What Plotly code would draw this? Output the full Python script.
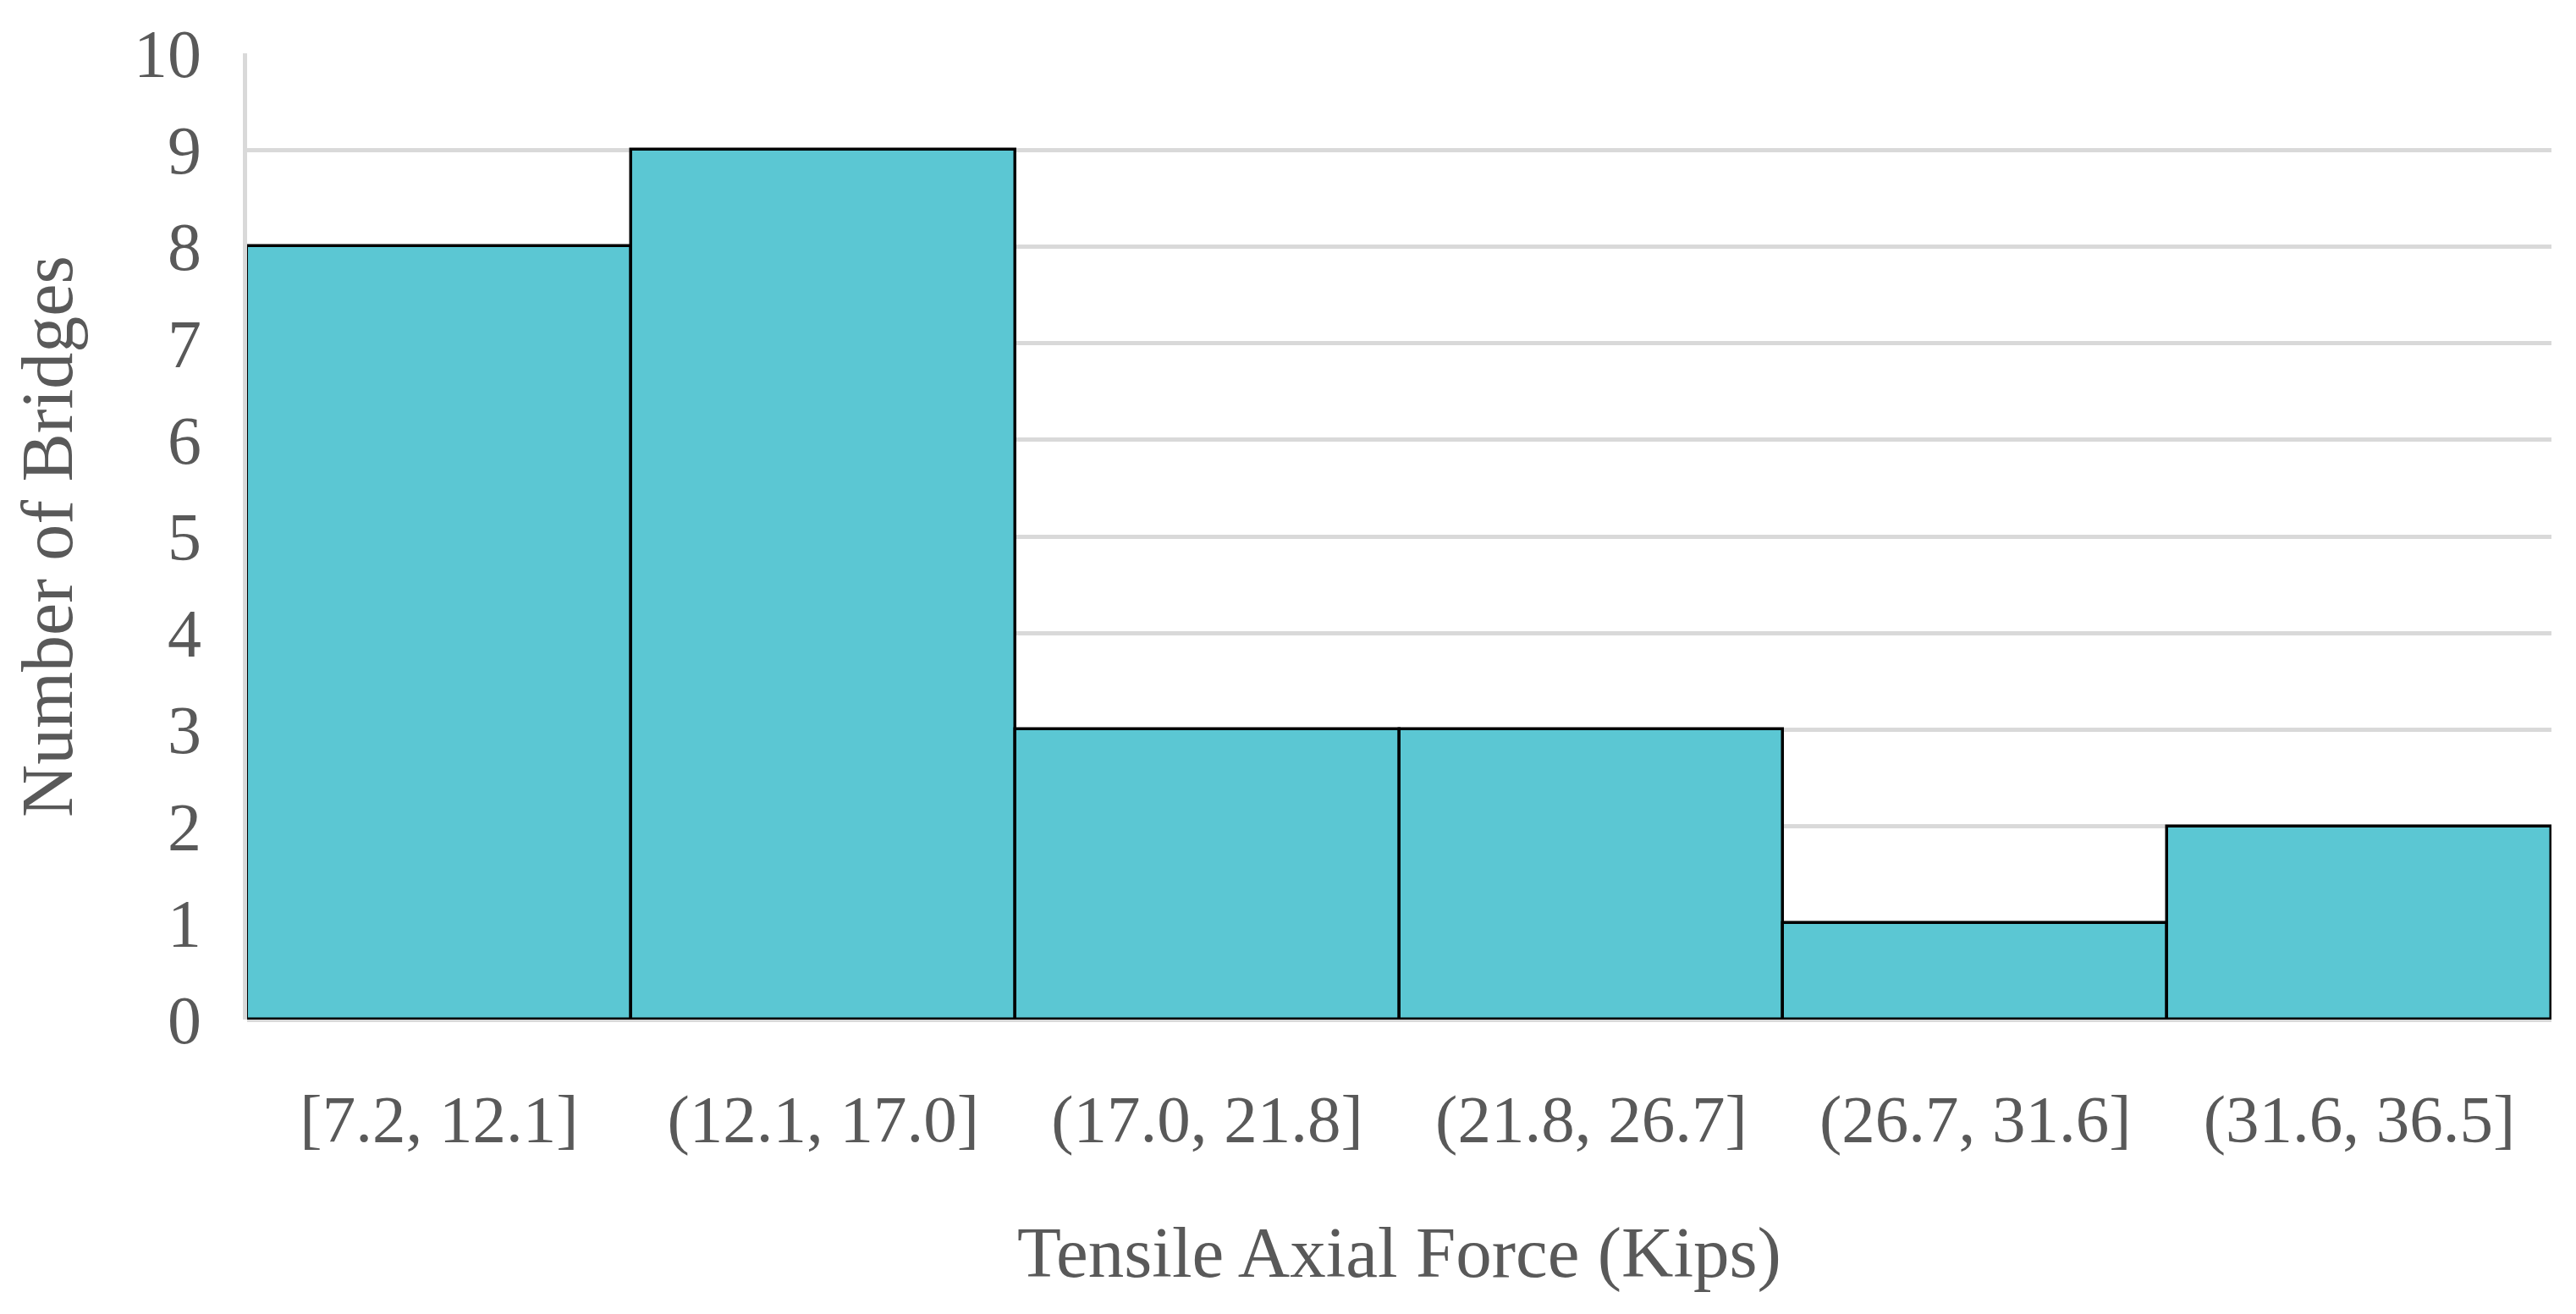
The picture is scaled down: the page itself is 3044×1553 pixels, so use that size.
import plotly.graph_objects as go

categories = ["[7.2, 12.1]", "(12.1, 17.0]", "(17.0, 21.8]", "(21.8, 26.7]", "(26.7, 31.6]", "(31.6, 36.5]"]
counts = [8, 9, 3, 3, 1, 2]
y_ticks = list(range(0, 11))

FONT = "Liberation Serif"
TXT = "#595959"
GRID = "#d9d9d9"

fig = go.Figure(go.Bar(
    x=categories, y=counts,
    marker=dict(color="#5BC7D3", line=dict(color="#000000", width=3.5)),
))

fig.update_layout(
    width=3044, height=1553,
    margin=dict(l=284, r=37, t=43, b=356),
    paper_bgcolor="white", plot_bgcolor="white",
    bargap=0,
    showlegend=False,
    font=dict(family=FONT, color=TXT, size=78),
)
fig.update_xaxes(
    type="category",
    showgrid=False, showline=False, zeroline=False,
    ticks="outside", ticklen=48, tickcolor="rgba(0,0,0,0)",
    tickfont=dict(family=FONT, size=79, color=TXT),
    title=dict(text="Tensile Axial Force (Kips)", font=dict(family=FONT, size=85, color=TXT), standoff=84),
)
fig.update_yaxes(
    range=[0, 10], tickvals=y_ticks,
    showgrid=True, gridcolor=GRID, gridwidth=5,
    zeroline=True, zerolinecolor=GRID, zerolinewidth=5,
    showline=True, linecolor=GRID, linewidth=5,
    ticks="outside", ticklen=33, tickcolor="rgba(0,0,0,0)",
    tickfont=dict(family=FONT, size=80, color=TXT),
    title=dict(text="Number of Bridges", font=dict(family=FONT, size=86, color=TXT), standoff=55),
)

fig.write_html("out.html")
